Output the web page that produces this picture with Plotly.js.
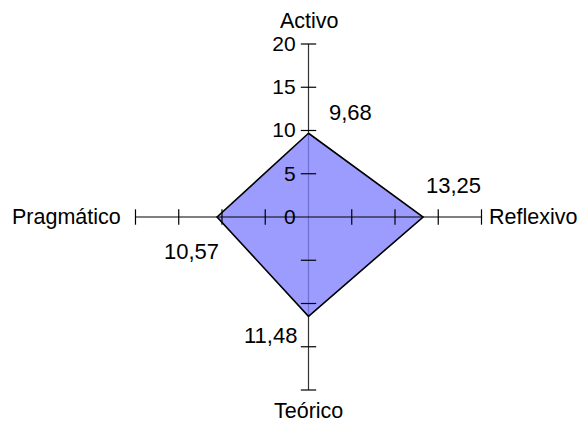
<!DOCTYPE html>
<html>
<head>
<meta charset="utf-8">
<script src="https://cdn.plot.ly/plotly-3.0.1.min.js"></script>
<style>html,body{margin:0;padding:0;background:#fff;}#chart{width:579px;height:423px;}</style>
</head>
<body>
<div id="chart"></div>
<script>
// Data
var categories = ['Activo', 'Reflexivo', 'Teórico', 'Pragmático'];
var values = [9.68, 13.25, 11.48, 10.57];
var tickVals = [0, 5, 10, 15, 20];
var tickLabels = ['0', '5', '10', '15', '20'];
var axisMax = 20;

var FONT = 'Liberation Sans, Arial, sans-serif';

// Closed polygon
var rPoly = values.concat([values[0]]);
var tPoly = categories.concat([categories[0]]);

// Vertical axis (Activo - Teórico) drawn under fill
var vAxis = {
  type: 'scatterpolar', mode: 'lines',
  r: [axisMax, 0, axisMax], theta: [categories[0], categories[0], categories[2]],
  line: {color: '#333333', width: 1.2}, hoverinfo: 'skip', showlegend: false
};
var poly = {
  type: 'scatterpolar', mode: 'lines',
  r: rPoly, theta: tPoly, fill: 'toself',
  fillcolor: 'rgba(128,128,255,0.78)',
  line: {color: '#000000', width: 1.6}, hoverinfo: 'skip', showlegend: false
};
var hAxis = {
  type: 'scatterpolar', mode: 'lines',
  r: [axisMax, 0, axisMax], theta: [categories[3], categories[3], categories[1]],
  line: {color: '#000000', width: 1.2}, hoverinfo: 'skip', showlegend: false
};
// Tick marks on every axis (skip 0)
var tr = [], tt = [], ts = [];
categories.forEach(function (c, i) {
  tickVals.forEach(function (v) {
    if (v === 0) return;
    tr.push(v); tt.push(c);
    ts.push(i % 2 === 0 ? 'line-ew' : 'line-ns');
  });
});
var ticks = {
  type: 'scatterpolar', mode: 'markers',
  r: tr, theta: tt,
  marker: {symbol: ts, size: 11, color: '#000', line: {color: '#000', width: 1.2}},
  hoverinfo: 'skip', showlegend: false
};

function fmt(v) { return v.toFixed(2).replace('.', ','); }

// value label positions (paper coords), one per category
var labelX = [0.6045, 0.7824, 0.4680, 0.3316];
var labelY = [0.7352, 0.5626, 0.2080, 0.4066];
var annotations = values.map(function (v, i) {
  return {
    xref: 'paper', yref: 'paper', x: labelX[i], y: labelY[i],
    xanchor: 'center', yanchor: 'middle', showarrow: false,
    text: fmt(v), font: {family: FONT, size: 22, color: '#000'}
  };
});
// category (axis end) labels
var catX = [0.5337, 0.8411, 0.5320, 0.2124];
var catY = [0.9504, 0.4870, 0.0284, 0.4870];
var catXAnchor = ['center', 'left', 'center', 'right'];
categories.forEach(function (c, i) {
  annotations.push({
    xref: 'paper', yref: 'paper', x: catX[i], y: catY[i],
    xanchor: catXAnchor[i], yanchor: 'middle', showarrow: false,
    text: c, font: {family: FONT, size: 21.5, color: '#000'}
  });
});

var layout = {
  width: 579, height: 423,
  margin: {l: 0, r: 0, t: 0, b: 0},
  paper_bgcolor: '#ffffff',
  showlegend: false,
  font: {family: FONT, size: 22, color: '#000'},
  polar: {
    domain: {x: [0.2340, 0.8316], y: [0.0780, 0.8960]},
    bgcolor: 'rgba(0,0,0,0)',
    radialaxis: {
      range: [0, axisMax], angle: 90, side: 'counterclockwise',
      tickvals: tickVals, ticktext: tickLabels, tickangle: 90,
      showline: false, showgrid: false,
      ticks: 'outside', ticklen: 5, tickcolor: 'rgba(0,0,0,0)',
      tickfont: {family: FONT, size: 21, color: '#000'},
      layer: 'above traces'
    },
    angularaxis: {
      type: 'category', categoryarray: categories, categoryorder: 'array',
      direction: 'clockwise', rotation: 90,
      showgrid: false, showline: false, ticks: '',
      showticklabels: false
    }
  },
  annotations: annotations
};

Plotly.newPlot('chart', [vAxis, poly, hAxis, ticks], layout, {displayModeBar: false, staticPlot: true});
</script>
</body>
</html>
